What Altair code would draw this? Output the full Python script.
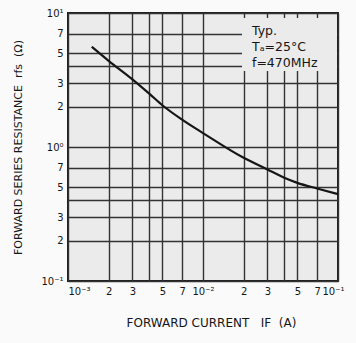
import altair as alt
import pandas as pd

# Forward current I_F (A) and forward series resistance r_fs (ohm)
current = [0.0015, 0.002, 0.003, 0.004, 0.005, 0.007, 0.01, 0.02, 0.03, 0.04, 0.05, 0.07, 0.1]
resistance = [5.6, 4.4, 3.2, 2.5, 2.05, 1.6, 1.27, 0.83, 0.68, 0.59, 0.54, 0.49, 0.445]

x_ticks = [0.001, 0.002, 0.003, 0.004, 0.005, 0.007, 0.01, 0.02, 0.03, 0.04, 0.05, 0.07, 0.1]
x_labels = ["10⁻³", "2", "3", "", "5", "7", "10⁻²", "2", "3", "", "5", "7", "10⁻¹"]
y_ticks = [0.1, 0.2, 0.3, 0.4, 0.5, 0.7, 1, 2, 3, 4, 5, 7, 10]
y_labels = ["10⁻¹", "2", "3", "", "5", "7", "10⁰", "2", "3", "", "5", "7", "10¹"]

note_lines = ["Typ.", "Tₐ=25°C", "f=470MHz"]

FONT = "DejaVu Sans"
INK = "#161616"
GRID = "#333333"
PAPER = "#ebebeb"
NB = "\u00a0"


def label_expr(ticks, labels):
    expr = "''"
    for t, l in reversed(list(zip(ticks, labels))):
        expr = f"datum.value == {t} ? '{l}' : ({expr})"
    return expr


df = pd.DataFrame({"current": current, "resistance": resistance})

x_enc = alt.X(
    "current:Q",
    scale=alt.Scale(type="log", domain=[0.001, 0.1], nice=False),
    axis=alt.Axis(
        values=x_ticks,
        labelExpr=label_expr(x_ticks, x_labels),
        labelOffset={"condition": {"test": "datum.value == 0.1", "value": 6}, "value": 0},
        title=f"FORWARD CURRENT{NB}{NB} IF{NB} (A)",
        titleY=41,
        titleX=143,
        titleBaseline="middle",
        titleFontSize=12,
        labelPadding=5,
    ),
)
y_enc = alt.Y(
    "resistance:Q",
    scale=alt.Scale(type="log", domain=[0.1, 10], nice=False),
    axis=alt.Axis(
        values=y_ticks,
        labelExpr=label_expr(y_ticks, y_labels),
        title=f"FORWARD SERIES RESISTANCE{NB} rfs{NB} (Ω)",
        titleX=-50,
        titleBaseline="middle",
        titleFontSize=11,
        labelPadding=5,
    ),
)

line = alt.Chart(df).mark_line(
    color=INK, strokeWidth=2.2, interpolate="monotone"
).encode(x=x_enc, y=y_enc)

box = alt.Chart(pd.DataFrame({"k": [0]})).mark_rect(fill=PAPER).encode(
    x=alt.value(174), x2=alt.value(269), y=alt.value(5), y2=alt.value(58)
)

notes = alt.Chart(pd.DataFrame({"k": [0]})).mark_text(
    text=note_lines,
    align="left",
    baseline="top",
    font=FONT,
    fontSize=12.5,
    lineHeight=16,
    color=INK,
).encode(x=alt.value(184), y=alt.value(12))

chart = (
    alt.layer(box, notes, line)
    .properties(
        width=270,
        height=268,
        autosize=alt.AutoSizeParams(type="none"),
        padding={"left": 68, "top": 13, "right": 18, "bottom": 62},
        background="#fafafa",
    )
    .configure_view(fill=PAPER, stroke="#1e1e1e", strokeWidth=2)
    .configure_axis(
        grid=True,
        gridColor=GRID,
        gridWidth=1.4,
        gridOpacity=1,
        domain=False,
        ticks=False,
        labelFont=FONT,
        labelFontSize=10,
        labelColor=INK,
        titleFont=FONT,
        titleFontWeight="normal",
        titleColor=INK,
        labelOverlap=False,
    )
)

chart.save("out.html", embed_options={"renderer": "svg", "actions": False})
